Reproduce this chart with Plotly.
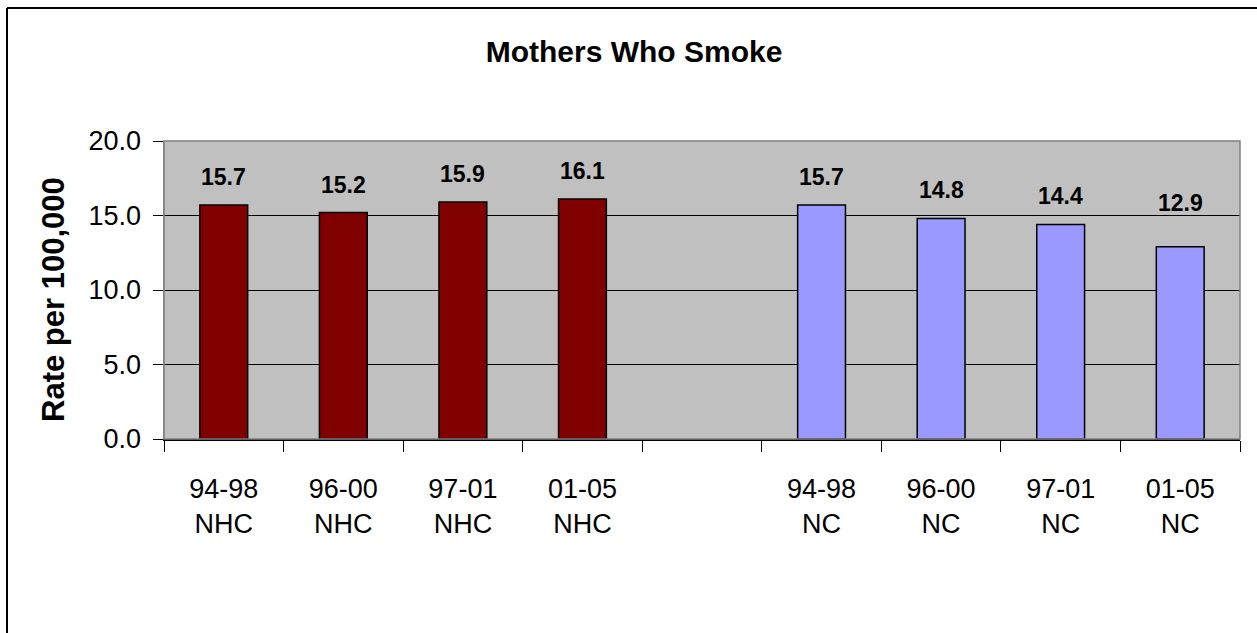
import plotly.graph_objects as go

# ---- data ----
periods = ["94-98", "96-00", "97-01", "01-05", "", "94-98", "96-00", "97-01", "01-05"]
regions = ["NHC", "NHC", "NHC", "NHC", "", "NC", "NC", "NC", "NC"]
values = [15.7, 15.2, 15.9, 16.1, None, 15.7, 14.8, 14.4, 12.9]
bar_colors = ["#800000"] * 4 + ["#C0C0C0"] + ["#9999FF"] * 4
label_offsets = [29, 29, 29, 29, 0, 29, 29, 29, 45]
title_text = "Mothers Who Smoke"
y_title = "Rate per 100,000"
y_ticks = [0, 5, 10, 15, 20]

categories = [f"{p}<br>{r}" if p else " " for p, r in zip(periods, regions)]

FONT = "Arial, Liberation Sans, sans-serif"
W, H = 1257, 633
L, R, T, B = 164, 17, 141, 194
pw, ph = W - L - R, H - T - B

def px_x(x):
    return (x - L) / pw

def px_y(y):
    return (H - B - y) / ph

fig = go.Figure()
fig.add_trace(go.Bar(
    x=categories, y=values,
    marker=dict(color=bar_colors, line=dict(color="#000000", width=1.5)),
    width=0.40, showlegend=False, hoverinfo="skip",
))

annotations = []
for c, v, off in zip(categories, values, label_offsets):
    if v is None:
        continue
    annotations.append(dict(
        x=c, y=v, xref="x", yref="y", text=f"<b>{v:.1f}</b>", showarrow=False,
        yshift=off - 1, yanchor="middle", xanchor="center",
        font=dict(family=FONT, size=23, color="#000000"),
    ))

annotations.append(dict(
    x=px_x(53), y=px_y(300), xref="paper", yref="paper",
    text=f"<b>{y_title}</b>", textangle=-90, showarrow=False,
    xanchor="center", yanchor="middle",
    font=dict(family=FONT, size=31, color="#000000"),
))

shapes = [
    # plot area border (gray)
    dict(type="rect", xref="paper", yref="paper", x0=0, y0=0, x1=1, y1=1,
         line=dict(color="#808080", width=1.5), layer="above"),
    # outer chart frame (top and left edges visible)
    dict(type="line", xref="paper", yref="paper",
         x0=px_x(7), y0=px_y(8), x1=px_x(W + 5), y1=px_y(8),
         line=dict(color="#000000", width=2)),
    dict(type="line", xref="paper", yref="paper",
         x0=px_x(7), y0=px_y(8), x1=px_x(7), y1=px_y(H + 5),
         line=dict(color="#000000", width=2)),
]

fig.update_layout(
    width=W, height=H,
    margin=dict(l=L, r=R, t=T, b=B, pad=0),
    paper_bgcolor="#FFFFFF", plot_bgcolor="#C0C0C0",
    font=dict(family=FONT, color="#000000"),
    title=dict(text=f"<b>{title_text}</b>", x=634 / W, y=1 - 51 / H,
               xanchor="center", yanchor="middle",
               font=dict(family=FONT, size=30, color="#000000")),
    bargap=0.6,
    annotations=annotations,
    shapes=shapes,
)

fig.update_xaxes(
    type="category", categoryorder="array", categoryarray=categories,
    range=[-0.5, len(categories) - 0.5],
    showline=True, linecolor="#000000", linewidth=1.5,
    ticks="outside", tickson="boundaries", ticklen=11, tickcolor="#000000", tickwidth=1,
    tickfont=dict(family=FONT, size=27, color="#000000"),
    showgrid=False, zeroline=False, ticklabelstandoff=25,
)
fig.update_yaxes(
    range=[0, 20], tickvals=y_ticks, tickformat=".1f",
    showline=True, linecolor="#808080", linewidth=1.5,
    ticks="outside", ticklen=10, tickcolor="#000000", tickwidth=1,
    tickfont=dict(family=FONT, size=27, color="#000000"),
    showgrid=True, gridcolor="#000000", gridwidth=1, zeroline=False,
    ticklabelstandoff=6,
)

fig.write_html(
    "out.html",
    config={"displayModeBar": False, "staticPlot": True},
    post_script="document.body.style.margin='0';document.body.style.overflow='hidden';",
)
